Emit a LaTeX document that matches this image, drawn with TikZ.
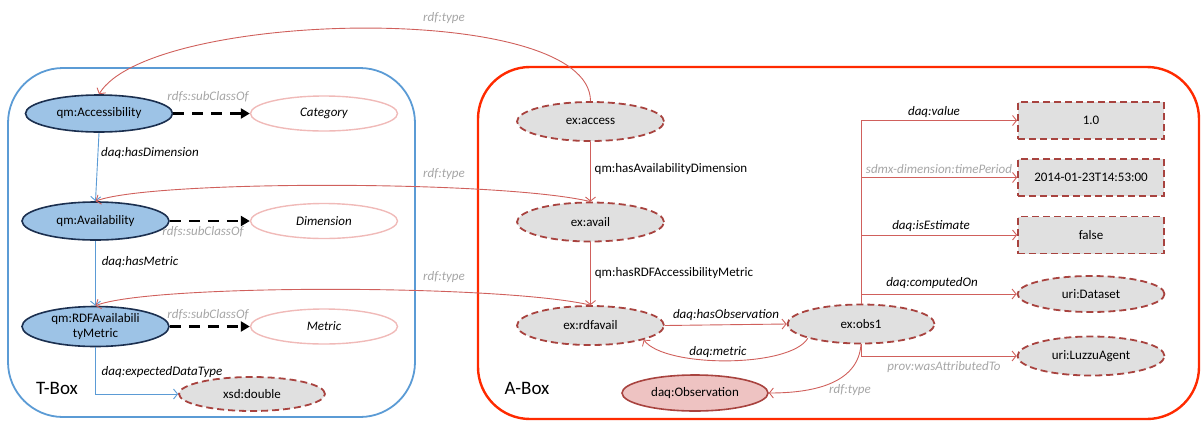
\documentclass[tikz,border=0pt]{standalone}
\usepackage{fontspec}
\setmainfont{Carlito}
\usetikzlibrary{shapes.geometric,arrows.meta}
\definecolor{navyb}{HTML}{1B2F4F}
\definecolor{lblue}{HTML}{9DC3E6}
\definecolor{pinkb}{HTML}{F0BAB8}
\definecolor{lgrey}{HTML}{E0E0E0}
\definecolor{dred}{HTML}{A8433F}
\definecolor{redc}{HTML}{D0605C}
\definecolor{obsfill}{HTML}{EEC3C2}
\definecolor{greyc}{HTML}{A6A6A6}
\definecolor{bluec}{HTML}{5B9BD5}
\definecolor{aboxc}{HTML}{FF2A00}
\tikzset{
  every node/.style={font=\fontsize{13}{15}\selectfont},
  clsnode/.style={ellipse, draw=navyb, fill=lblue, line width=1.6pt, minimum width=147pt, minimum height=37pt, inner sep=0pt, align=center, font=\fontsize{13}{15}\selectfont},
  supnode/.style={ellipse, draw=pinkb, line width=1.4pt, minimum width=147pt, minimum height=35pt, inner sep=0pt, font=\fontsize{13}{15}\selectfont\itshape},
  indnode/.style={ellipse, draw=dred, fill=lgrey, line width=1.8pt, dash pattern=on 7pt off 4pt, minimum width=147pt, minimum height=39pt, inner sep=0pt},
  litnode/.style={rectangle, draw=dred, fill=lgrey, line width=1.8pt, dash pattern=on 7pt off 4pt, minimum width=146pt, minimum height=37pt, inner sep=0pt},
  obsclass/.style={ellipse, draw=dred, fill=obsfill, line width=1.6pt, minimum width=146pt, minimum height=36pt, inner sep=0pt},
  redge/.style={draw=redc, line width=0.9pt, -{Straight Barb[length=4pt,width=10pt]}},
  bedge/.style={draw=bluec, line width=0.9pt, -{Straight Barb[length=4pt,width=10pt]}},
  subedge/.style={draw=black, line width=2.8pt, dash pattern=on 11pt off 8pt, -{Triangle[length=9pt,width=10pt]}},
  lab/.style={font=\fontsize{13}{15}\selectfont\itshape, inner sep=1pt},
  glab/.style={lab, text=greyc},
  plab/.style={font=\fontsize{13}{15}\selectfont, inner sep=1pt},
  boxlab/.style={font=\fontsize{19}{21}\selectfont, inner sep=0pt}
}
\begin{document}
\begin{tikzpicture}[x=1pt,y=-1pt]
\useasboundingbox (0,0) rectangle (1201,421);
% containers
\draw[bluec, line width=1.8pt, rounded corners=55pt] (8,68) rectangle (415,417);
\draw[aboxc, line width=2.4pt, rounded corners=52pt] (478,67) rectangle (1199,419);
\node[boxlab] (tboxlab) at (57,388) {T-Box};
\node[boxlab] (aboxlab) at (527,388) {A-Box};

% T-Box nodes
\node[clsnode] (acc) at (99,113.5) {qm:Accessibility};
\node[supnode] (cat) at (324,113.5) {Category};
\node[clsnode, minimum height=38pt] (avl) at (95.5,221) {qm:Availability};
\node[supnode] (dim) at (324,221) {Dimension};
\node[clsnode, minimum height=40pt] (rdfm) at (95.5,326.5) {qm:RDFAvailabili\\tyMetric};
\node[supnode] (met) at (324,326.5) {Metric};
\node[indnode, minimum width=146pt, minimum height=34pt] (xsd) at (252,394) {xsd:double};

% A-Box nodes
\node[indnode] (exacc) at (590.5,121.5) {ex:access};
\node[indnode] (exavl) at (590.5,222) {ex:avail};
\node[indnode] (exrdf) at (590.5,325.5) {ex:rdfavail};
\node[indnode] (obs) at (861,324) {ex:obs1};
\node[obsclass] (dobs) at (695,393) {daq:Observation};
\node[litnode] (v1) at (1091,120.5) {1.0};
\node[litnode] (tp) at (1091,177.5) {2014-01-23T14:53:00};
\node[litnode] (fls) at (1091,235) {false};
\node[indnode, minimum height=36pt] (ds) at (1091,294) {uri:Dataset};
\node[indnode] (la) at (1091,356) {uri:LuzzuAgent};

% subClassOf
\draw[subedge] (acc) -- (cat) node[glab, at={(208,97)}] {rdfs:subClassOf};
\draw[subedge] (avl) -- (dim) node[glab, at={(203,232)}] {rdfs:subClassOf};
\draw[subedge] (rdfm) -- (met) node[glab, at={(208,315)}] {rdfs:subClassOf};

% T-Box properties
\draw[bedge] (acc.south) -- (avl.north) node[lab, at={(150,153)}] {daq:hasDimension};
\draw[bedge] (avl.south) -- (rdfm.north) node[lab, at={(140,262)}] {daq:hasMetric};
\draw[bedge] (rdfm.south) |- (xsd.west) node[lab, at={(162,372)}] {daq:expectedDataType};

% rdf:type links
\draw[redge] (exacc.north) .. controls (590,0) and (150,10) .. (acc.north) node[glab, at={(444,18)}] {rdf:type};
\draw[redge] (exavl.north) .. controls (500,180) and (150,180) .. (avl.north) node[glab, at={(444,174)}] {rdf:type};
\draw[redge] (exrdf.north) .. controls (500,284) and (150,284) .. (rdfm.north) node[glab, at={(444,277)}] {rdf:type};
\draw[redge] (obs.south) .. controls (858,385) and (810,393) .. (dobs.east) node[glab, at={(850,390)}] {rdf:type};

% A-Box properties
\draw[redge] (exacc.south) -- (exavl.north) node[plab, at={(671,169)}] {qm:hasAvailabilityDimension};
\draw[redge] (exavl.south) -- (exrdf.north) node[plab, at={(674,273)}] {qm:hasRDFAccessibilityMetric};
\draw[redge] (exrdf.east) -- (obs.west) node[lab, at={(726,315)}] {daq:hasObservation};
\draw[redge] (obs.195) .. controls (790,368) and (665,368) .. (exrdf.-15) node[lab, at={(718,352)}] {daq:metric};

\draw[redge] (obs.north) |- (v1.west) node[lab, at={(934,112)}] {daq:value};
\draw[redge] (obs.north) |- (tp.west) node[glab, at={(939,169)}] {sdmx-dimension:timePeriod};
\draw[redge] (obs.north) |- (fls.west) node[lab, at={(931,226)}] {daq:isEstimate};
\draw[redge] (obs.north) |- (ds.west) node[lab, at={(932,283)}] {daq:computedOn};
\draw[redge] (obs.south) |- (la.west) node[glab, at={(944,367)}] {prov:wasAttributedTo};
\end{tikzpicture}
\end{document}
